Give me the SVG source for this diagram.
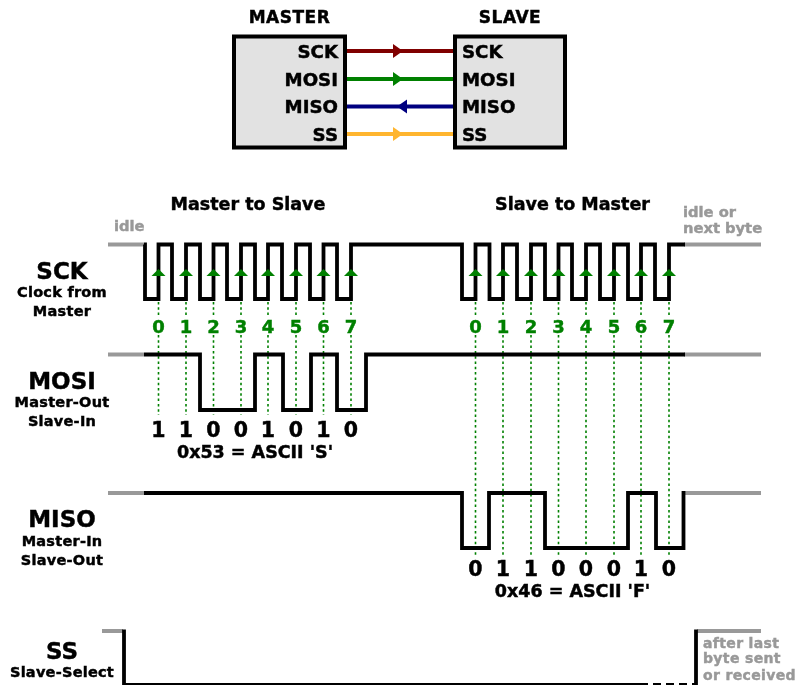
<svg xmlns="http://www.w3.org/2000/svg" width="799" height="685" viewBox="0 0 799 685">
<defs>
<filter id="soft" x="-5%" y="-5%" width="110%" height="110%"><feGaussianBlur stdDeviation="0.7"/></filter>
<path id="tri" d="M-7 7L0 0L7 7Z" fill="#008000"/>
<path id="head" d="M0 -7L10 0L0 7Z"/>
</defs>
<style>
text{font-family:"DejaVu Sans",Verdana,sans-serif;font-weight:700;fill:#000;stroke:#000;stroke-width:.45;text-anchor:middle}
.t{font-size:17px;letter-spacing:.5px}
.big{font-size:23px}
.sub{font-size:14.500px;letter-spacing:.25px}
.pin{font-size:18.200px}
.g{font-size:14.700px;fill:#999;stroke:#999;text-anchor:start}
.n{font-size:14px;letter-spacing:.35px}
.d{font-size:18px;fill:#008000;stroke:#008000}
.b{font-size:20.500px}
.h{font-size:17.500px}
.sig{fill:none;stroke:#000;stroke-width:3.800;stroke-linejoin:miter}
.idle{fill:none;stroke:#999;stroke-width:3.800}
.dot{stroke:#008000;stroke-width:1.600;stroke-dasharray:2.500 2.800;fill:none}
.box{fill:#e2e2e2;stroke:#000;stroke-width:4}
.w{stroke-width:3.800;fill:none}
.e{text-anchor:end}
.s{text-anchor:start}
</style>
<rect width="799" height="685" fill="#fff"/>
<g filter="url(#soft)">
<g id="connectors">
<g id="wires">
<path class="w" stroke="#800000" d="M346 51H454"/><use href="#head" x="393" y="51" fill="#800000"/>
<path class="w" stroke="#008000" d="M346 79H454"/><use href="#head" x="393" y="79" fill="#008000"/>
<path class="w" stroke="#000080" d="M346 106.500H454"/><use href="#head" transform="translate(407 106.500) rotate(180)" fill="#000080"/>
<path class="w" stroke="#ffb52e" d="M346 134H454"/><use href="#head" x="393" y="134" fill="#ffb52e"/>
</g>
<g id="dotted">
<path class="dot" d="M158.500 302V316M158.500 335V415M186 302V316M186 335V415M213.500 302V316M213.500 335V415M241 302V316M241 335V415M268 302V316M268 335V415M296 302V316M296 335V415M323.500 302V316M323.500 335V415M351 302V316M351 335V415"/>
<path class="dot" d="M475.500 302V316M475.500 335V555M503 302V316M503 335V555M531 302V316M531 335V555M558.500 302V316M558.500 335V555M586 302V316M586 335V555M614 302V316M614 335V555M641 302V316M641 335V555M669 302V316M669 335V555"/>
</g>
</g>
<g id="master">
<rect class="box" x="234" y="36.500" width="111" height="111"/>
<text class="t" x="289.500" y="23">MASTER</text>
<text class="pin e" x="338" y="58">SCK</text>
<text class="pin e" x="338" y="85.500">MOSI</text>
<text class="pin e" x="338" y="113">MISO</text>
<text class="pin e" x="338" y="140.500">SS</text>
</g>
<g id="slave">
<rect class="box" x="455" y="36.500" width="110" height="111"/>
<text class="t" x="510" y="23">SLAVE</text>
<text class="pin s" x="462" y="58">SCK</text>
<text class="pin s" x="462" y="85.500">MOSI</text>
<text class="pin s" x="462" y="113">MISO</text>
<text class="pin s" x="462" y="140.500">SS</text>
</g>
<g id="headings">
<text class="h" x="248" y="210">Master to Slave</text>
<text class="h" x="572.500" y="210">Slave to Master</text>
<text class="g" x="114" y="230.500">idle</text>
<text class="g" x="683" y="217">idle or</text>
<text class="g" x="683" y="232.500">next byte</text>
</g>
<g id="sck">
<text class="big" x="62" y="279">SCK</text>
<text class="sub" x="62" y="297">Clock from</text>
<text class="sub" x="62" y="316">Master</text>
<path class="idle" d="M108 244.500H144M684 244.500H761"/>
<path class="sig" d="M144 244.500H145V299H158.500V244.500H172V299H186V244.500H200V299H213.500V244.500H227V299H241V244.500H255V299H268V244.500H282V299H296V244.500H310V299H323.500V244.500H337V299H351V244.500H462V299H475.500V244.500H489.500V299H503V244.500H517V299H531V244.500H545V299H558.500V244.500H572V299H586V244.500H600V299H614V244.500H628V299H641V244.500H655V299H669V244.500H685"/>
<g>
<use href="#tri" x="158.500" y="269"/><use href="#tri" x="186" y="269"/><use href="#tri" x="213.500" y="269"/><use href="#tri" x="241" y="269"/><use href="#tri" x="268" y="269"/><use href="#tri" x="296" y="269"/><use href="#tri" x="323.500" y="269"/><use href="#tri" x="351" y="269"/>
<use href="#tri" x="475.500" y="269"/><use href="#tri" x="503" y="269"/><use href="#tri" x="531" y="269"/><use href="#tri" x="558.500" y="269"/><use href="#tri" x="586" y="269"/><use href="#tri" x="614" y="269"/><use href="#tri" x="641" y="269"/><use href="#tri" x="669" y="269"/>
</g>
<g>
<text class="d" x="158.500" y="333">0</text><text class="d" x="186" y="333">1</text><text class="d" x="213.500" y="333">2</text><text class="d" x="241" y="333">3</text><text class="d" x="268" y="333">4</text><text class="d" x="296" y="333">5</text><text class="d" x="323.500" y="333">6</text><text class="d" x="351" y="333">7</text>
<text class="d" x="475.500" y="333">0</text><text class="d" x="503" y="333">1</text><text class="d" x="531" y="333">2</text><text class="d" x="558.500" y="333">3</text><text class="d" x="586" y="333">4</text><text class="d" x="614" y="333">5</text><text class="d" x="641" y="333">6</text><text class="d" x="669" y="333">7</text>
</g>
</g>
<g id="mosi">
<text class="big" x="62" y="389">MOSI</text>
<text class="sub" x="62" y="407">Master-Out</text>
<text class="sub" x="62" y="426">Slave-In</text>
<path class="idle" d="M108 354.500H144M684 354.500H761"/>
<path class="sig" d="M144 354.500H200V410H255V354.500H283V410H311V354.500H337V410H366V354.500H685"/>
<text class="b" x="158.500" y="437">1</text><text class="b" x="186" y="437">1</text><text class="b" x="213.500" y="437">0</text><text class="b" x="241" y="437">0</text><text class="b" x="268" y="437">1</text><text class="b" x="296" y="437">0</text><text class="b" x="323.500" y="437">1</text><text class="b" x="351" y="437">0</text>
<text class="h" x="255" y="457.500">0x53 = ASCII 'S'</text>
</g>
<g id="miso">
<text class="big" x="62" y="527">MISO</text>
<text class="sub" x="62" y="546">Master-In</text>
<text class="sub" x="62" y="565">Slave-Out</text>
<path class="idle" d="M108 493H144M684 493H761"/>
<path class="sig" d="M144 493H462V548H489V493H545V548H628V493H656V548H683.500V491"/>
<text class="b" x="475.500" y="575.500">0</text><text class="b" x="503" y="575.500">1</text><text class="b" x="531" y="575.500">1</text><text class="b" x="558.500" y="575.500">0</text><text class="b" x="586" y="575.500">0</text><text class="b" x="614" y="575.500">0</text><text class="b" x="641" y="575.500">1</text><text class="b" x="669" y="575.500">0</text>
<text class="h" x="572.500" y="596.500">0x46 = ASCII 'F'</text>
</g>
<g id="ss">
<text class="big" x="62" y="659">SS</text>
<text class="sub" x="62" y="677">Slave-Select</text>
<path class="idle" d="M102 631H123M697 631H761"/>
<path class="sig" d="M124 629.500V685H648"/>
<path class="sig" d="M653 685H696" stroke-dasharray="8 5"/>
<path class="sig" d="M696 685V629.500"/>
<text class="g n" x="703" y="647.500">after last</text>
<text class="g n" x="703" y="663">byte sent</text>
<text class="g n" x="703" y="679.500">or received</text>
</g>
</g>
</svg>
